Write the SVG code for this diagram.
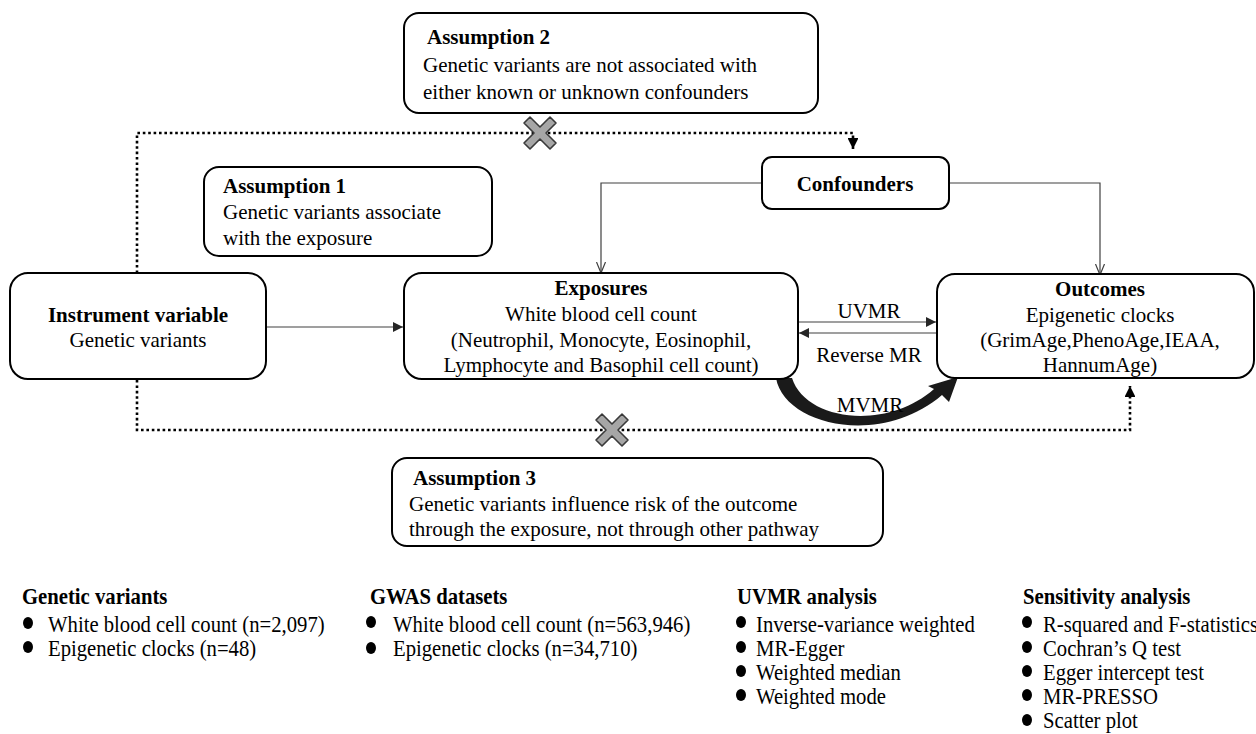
<svg xmlns="http://www.w3.org/2000/svg" width="1256" height="734" viewBox="0 0 1256 734">
<style>
text{font-family:"Liberation Serif","Times New Roman",serif;fill:#000}
.t{font-size:21px}
.b{font-weight:bold}
.m{text-anchor:middle}
.box{fill:#fff;stroke:#000;stroke-width:2}
.ln{fill:none;stroke:#404040;stroke-width:1.2}
.dot{fill:none;stroke:#000;stroke-width:2.6;stroke-dasharray:2.6 2.8}
.lg{font-size:23px}
</style>
<defs>
<marker id="af" viewBox="0 0 10 10" refX="10" refY="5" markerWidth="10" markerHeight="10" markerUnits="userSpaceOnUse" orient="auto">
<path d="M0 0L10 5L0 10z" fill="#262626"/>
</marker>
<marker id="ad" viewBox="0 0 10 10" refX="10" refY="5" markerWidth="4.2" markerHeight="4.2" orient="auto">
<path d="M0 0L10 5L0 10z" fill="#000"/>
</marker>
<marker id="av" viewBox="0 0 12 12" refX="11" refY="6" markerWidth="12" markerHeight="12" markerUnits="userSpaceOnUse" orient="auto">
<path d="M0 1.5L11 6L0 10.5" fill="none" stroke="#404040" stroke-width="1.2"/>
</marker>
<polygon id="cross" points="-16,-10 -10,-16 0,-6 10,-16 16,-10 6,0 16,10 10,16 0,6 -10,16 -16,10 -6,0" fill="#a6a6a6" stroke="#3a3a3a" stroke-width="1.6" stroke-linejoin="round"/>
</defs>

<g id="connectors">
<path class="dot" d="M137 273V133H853V149" marker-end="url(#ad)"/>
<path class="dot" d="M137 380V430H1130V386" marker-end="url(#ad)"/>
<path class="ln" d="M266 327H403" marker-end="url(#af)"/>
<path class="ln" d="M798 322H936" marker-end="url(#af)"/>
<path class="ln" d="M937 333H799" marker-end="url(#af)"/>
<path class="ln" d="M762 183H601V273" marker-end="url(#av)"/>
<path class="ln" d="M949 183H1100V275" marker-end="url(#av)"/>
<path d="M776 378C784 425 880 448 942 395L949 402L958 377L928 386L934 389C885 432 805 420 792 378Z" fill="#1a1a1a"/>
<use href="#cross" x="540" y="133"/>
<use href="#cross" x="612" y="430"/>
<text class="t m" x="869" y="318">UVMR</text>
<text class="t m" x="869" y="362">Reverse MR</text>
<text class="t m" x="870" y="412">MVMR</text>
</g>

<g id="assumption2">
<rect class="box" x="404" y="13" width="414" height="100" rx="15"/>
<text class="t b" x="427" y="44">Assumption 2</text>
<text class="t" x="423" y="72">Genetic variants are not associated with</text>
<text class="t" x="423" y="99">either known or unknown confounders</text>
</g>

<g id="confounders">
<rect class="box" x="762" y="157" width="187" height="52" rx="10"/>
<text class="t b m" x="855" y="191">Confounders</text>
</g>

<g id="assumption1">
<rect class="box" x="204" y="167" width="288" height="89" rx="15"/>
<text class="t b" x="223" y="193">Assumption 1</text>
<text class="t" x="223" y="219">Genetic variants associate</text>
<text class="t" x="223" y="245">with the exposure</text>
</g>

<g id="instrument">
<rect class="box" x="10" y="273" width="256" height="106" rx="18"/>
<text class="t b m" x="138" y="322">Instrument variable</text>
<text class="t m" x="138" y="347">Genetic variants</text>
</g>

<g id="exposures">
<rect class="box" x="404" y="273" width="394" height="106" rx="18"/>
<text class="t b m" x="601" y="295">Exposures</text>
<text class="t m" x="601" y="321">White blood cell count</text>
<text class="t m" x="601" y="347">(Neutrophil, Monocyte, Eosinophil,</text>
<text class="t m" x="601" y="372">Lymphocyte and Basophil cell count)</text>
</g>

<g id="outcomes">
<rect class="box" x="937" y="274" width="317" height="104" rx="18"/>
<text class="t b m" x="1100" y="296">Outcomes</text>
<text class="t m" x="1100" y="322">Epigenetic clocks</text>
<text class="t m" x="1100" y="347">(GrimAge,PhenoAge,IEAA,</text>
<text class="t m" x="1100" y="372">HannumAge)</text>
</g>

<g id="assumption3">
<rect class="box" x="392" y="458" width="491" height="88" rx="15"/>
<text class="t b" x="413" y="485">Assumption 3</text>
<text class="t" x="409" y="511">Genetic variants influence risk of the outcome</text>
<text class="t" x="409" y="536">through the exposure, not through other pathway</text>
</g>

<g id="legend-genetic">
<text class="lg b" transform="translate(22 604) scale(0.9 1)">Genetic variants</text>
<ellipse cx="28" cy="623" rx="5" ry="6"/>
<text class="lg" transform="translate(48 632) scale(0.9 1)">White blood cell count (n=2,097)</text>
<ellipse cx="28" cy="647" rx="5" ry="6"/>
<text class="lg" transform="translate(48 656) scale(0.9 1)">Epigenetic clocks (n=48)</text>
</g>

<g id="legend-gwas">
<text class="lg b" transform="translate(370 604) scale(0.9 1)">GWAS datasets</text>
<ellipse cx="371" cy="622" rx="5" ry="6"/>
<text class="lg" transform="translate(393 632) scale(0.9 1)">White blood cell count (n=563,946)</text>
<ellipse cx="371" cy="648" rx="5" ry="6"/>
<text class="lg" transform="translate(393 656) scale(0.9 1)">Epigenetic clocks (n=34,710)</text>
</g>

<g id="legend-uvmr">
<text class="lg b" transform="translate(737 604) scale(0.9 1)">UVMR analysis</text>
<ellipse cx="741" cy="622" rx="5" ry="6"/>
<text class="lg" transform="translate(756 632) scale(0.9 1)">Inverse-variance weighted</text>
<ellipse cx="741" cy="647" rx="5" ry="6"/>
<text class="lg" transform="translate(756 656) scale(0.9 1)">MR-Egger</text>
<ellipse cx="741" cy="671" rx="5" ry="6"/>
<text class="lg" transform="translate(756 680) scale(0.9 1)">Weighted median</text>
<ellipse cx="741" cy="695" rx="5" ry="6"/>
<text class="lg" transform="translate(756 704) scale(0.9 1)">Weighted mode</text>
</g>

<g id="legend-sensitivity">
<text class="lg b" transform="translate(1023 604) scale(0.9 1)">Sensitivity analysis</text>
<ellipse cx="1027" cy="622" rx="5" ry="6"/>
<text class="lg" transform="translate(1043 632) scale(0.9 1)">R-squared and F-statistics</text>
<ellipse cx="1027" cy="647" rx="5" ry="6"/>
<text class="lg" transform="translate(1043 656) scale(0.9 1)">Cochran’s Q test</text>
<ellipse cx="1027" cy="671" rx="5" ry="6"/>
<text class="lg" transform="translate(1043 680) scale(0.9 1)">Egger intercept test</text>
<ellipse cx="1027" cy="695" rx="5" ry="6"/>
<text class="lg" transform="translate(1043 704) scale(0.9 1)">MR-PRESSO</text>
<ellipse cx="1027" cy="720" rx="5" ry="6"/>
<text class="lg" transform="translate(1043 728) scale(0.9 1)">Scatter plot</text>
</g>
</svg>
